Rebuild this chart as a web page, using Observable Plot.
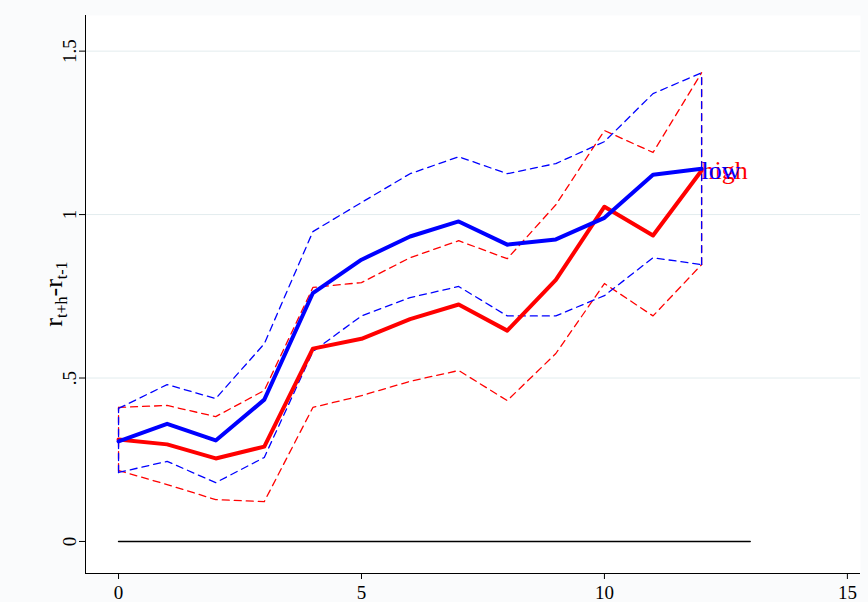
<!DOCTYPE html>
<html><head><meta charset="utf-8">
<script src="https://cdn.jsdelivr.net/npm/d3@7"></script>
<script src="https://cdn.jsdelivr.net/npm/@observablehq/plot@0.6"></script>
<style>body{margin:0;background:#fff}</style>
</head><body><div id="c"></div>
<script>
const horizon = [0,1,2,3,4,5,6,7,8,9,10,11,12];
const lowMid = [0.306,0.36,0.309,0.434,0.76,0.862,0.933,0.979,0.908,0.924,0.99,1.122,1.14];
const lowUp  = [0.407,0.48,0.437,0.605,0.948,1.037,1.125,1.177,1.125,1.156,1.223,1.37,1.434];
const lowLo  = [0.211,0.245,0.18,0.257,0.581,0.69,0.746,0.78,0.69,0.69,0.752,0.868,0.847];
const highMid= [0.312,0.297,0.254,0.29,0.59,0.62,0.68,0.725,0.645,0.80,1.024,0.936,1.135];
const highUp = [0.41,0.416,0.382,0.462,0.777,0.792,0.868,0.92,0.865,1.03,1.257,1.19,1.434];
const highLo = [0.217,0.174,0.128,0.122,0.41,0.446,0.49,0.523,0.431,0.575,0.789,0.69,0.847];
const yTicks = [0,0.5,1,1.5];
const yTickLabels = ["0",".5","1","1.5"];
const xTicks = [0,5,10,15];

const mk = (ys) => horizon.map((h,i)=>({x:h,y:ys[i]}));
const ends = (lo,up) => [0,12].map(i=>[{x:horizon[i],y:lo[i]},{x:horizon[i],y:up[i]}]);
const dash = (ys,c) => Plot.line(mk(ys),{x:"x",y:"y",stroke:c,strokeWidth:1.3,strokeDasharray:"7,5"});
const vend = (lo,up,c) => ends(lo,up).map(seg=>Plot.line(seg,{x:"x",y:"y",stroke:c,strokeWidth:1.3,strokeDasharray:"7,5"}));
const fmt = (d)=>yTickLabels[yTicks.indexOf(d)];

const chart = Plot.plot({
  width:868, height:602,
  marginLeft:85, marginRight:8, marginTop:15, marginBottom:29,
  style:{fontFamily:"'Liberation Serif', 'Times New Roman', serif", fontSize:"19px", background:"#fafbfc"},
  x:{domain:[-0.68,15.27], label:null},
  y:{domain:[-0.098,1.609], label:null},
  marks:[
    Plot.frame({fill:"white", stroke:"none"}),
    Plot.gridY(yTicks.slice(1),{stroke:"#e3ecee", strokeOpacity:1}),
    Plot.axisX({ticks:xTicks, tickSize:6, tickPadding:6, label:null}),
    Plot.axisY({ticks:yTicks, tickFormat:fmt, tickSize:6, tickPadding:4, tickRotate:-90, label:null}),
    Plot.ruleX([-0.68],{stroke:"black"}),
    Plot.ruleY([-0.098],{stroke:"black"}),
    Plot.line([{x:0,y:0},{x:13,y:0}],{x:"x",y:"y",stroke:"black",strokeWidth:1.5}),
    dash(highUp,"red"), dash(highLo,"red"), ...vend(highLo,highUp,"red"),
    dash(lowUp,"blue"), dash(lowLo,"blue"), ...vend(lowLo,lowUp,"blue"),
    Plot.line(mk(highMid),{x:"x",y:"y",stroke:"red",strokeWidth:4}),
    Plot.line(mk(lowMid),{x:"x",y:"y",stroke:"blue",strokeWidth:4}),
    Plot.text([{x:12,y:1.135}],{x:"x",y:"y",text:()=>"high",fill:"red",textAnchor:"start",fontSize:26}),
    Plot.text([{x:12,y:1.135}],{x:"x",y:"y",text:()=>"low",fill:"blue",textAnchor:"start",fontSize:26}),
  ]
});
document.getElementById("c").appendChild(chart);
const svg = d3.select(chart);
svg.selectAll("text").filter(function(){return /^\.?[0-9.]+$/.test(this.textContent);}).attr("font-size","19").style("font-size","19px");
const t = svg.append("text").attr("transform","translate(62,294) rotate(-90)").attr("text-anchor","middle")
  .style("font-family","'Liberation Serif', serif").style("font-size","26px").attr("fill","black");
t.append("tspan").text("r");
t.append("tspan").attr("font-size","16px").attr("dy","5").text("t+h");
t.append("tspan").attr("dy","-5").text("-r");
t.append("tspan").attr("font-size","16px").attr("dy","5").text("t-1");
</script></body></html>
